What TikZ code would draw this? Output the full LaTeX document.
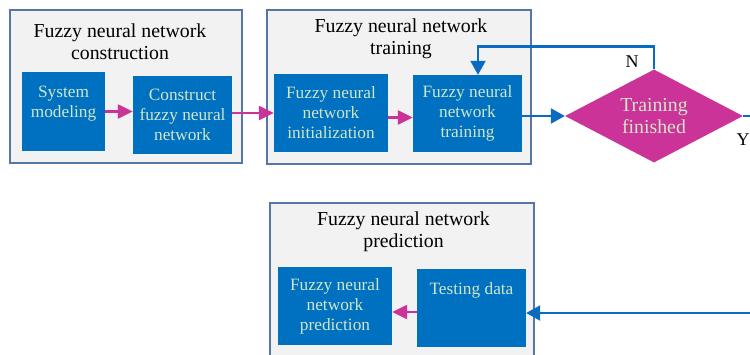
\documentclass[tikz,border=0pt]{standalone}
\usepackage{fontspec}
\setmainfont{Liberation Serif}
\usetikzlibrary{shapes.geometric,arrows.meta}
\definecolor{boxblue}{HTML}{0070C0}
\definecolor{boxtext}{HTML}{CFE7C6}
\definecolor{pinkarrow}{HTML}{CC3399}
\definecolor{groupedge}{HTML}{5676A8}
\definecolor{groupfill}{HTML}{F2F2F2}
\definecolor{flowblue}{HTML}{0A6CC0}

\begin{document}
\begin{tikzpicture}[x=1pt,y=-1pt,
  group/.style={draw=groupedge,fill=groupfill,line width=1.8pt,inner sep=0pt},
  stage/.style={fill=boxblue,text=boxtext,align=center,inner sep=0pt,
    font=\fontsize{17.3}{20}\selectfont},
  grouptitle/.style={align=center,inner sep=0pt,font=\fontsize{19.8}{22}\selectfont},
  pinkflow/.style={draw=pinkarrow,line width=2.4pt,-{Triangle[length=15pt,width=14pt]}},
  blueflow/.style={draw=flowblue,line width=2.4pt,-{Triangle[length=14pt,width=15pt]}},
  branch/.style={inner sep=0pt,font=\fontsize{18}{20}\selectfont}]

\useasboundingbox (0,0) rectangle (750,354);
\clip (0,0) rectangle (750,354);

% grey stage groups
\node[group,minimum width=232pt,minimum height=153pt] (g1) at (126,86.5) {};
\node[group,minimum width=264pt,minimum height=154pt] (g2) at (399,87) {};
\node[group,minimum width=264pt,minimum height=167pt] (g3) at (402,286.5) {};

\node[grouptitle] (t1) at (120,42) {Fuzzy neural network\\construction};
\node[grouptitle] (t2) at (401,39) {Fuzzy neural network\\training};
\node[grouptitle] (t3) at (403.5,232) {Fuzzy neural network\\prediction};

% process steps
\node[stage,minimum width=83pt,minimum height=79pt] (sys) at (63.5,111.5) {System\\modeling\\~};
\node[stage,minimum width=99pt,minimum height=78pt] (cons) at (182.5,115) {Construct\\fuzzy neural\\network};
\node[stage,minimum width=114pt,minimum height=78pt] (init) at (331,113) {Fuzzy neural\\network\\initialization};
\node[stage,minimum width=109pt,minimum height=77pt] (train) at (467.5,113.5) {Fuzzy neural\\network\\training};
\node[stage,minimum width=114pt,minimum height=78pt] (pred) at (335,306) {Fuzzy neural\\network\\prediction};
\node[stage,minimum width=109pt,minimum height=78pt] (test) at (471.5,308) {Testing data\\~\\~};

% decision
\node[diamond,fill=pinkarrow,text=boxtext,align=center,inner sep=0pt,aspect=1.9,
  minimum width=178pt,minimum height=93pt,font=\fontsize{19.8}{22}\selectfont]
  (dia) at (654,116) {Training\\finished};

\node[branch] (n) at (632,62) {N};
\node[branch] (y) at (743,140) {Y};

% connectors
\draw[pinkflow] (sys.east) -- (sys.east -| cons.west);
\draw[pinkflow] ([yshift=2pt]cons.east) -- ([yshift=2pt]cons.east -| init.west);
\draw[pinkflow] ([yshift=-4.5pt]init.east) -- ([yshift=-4.5pt]init.east -| train.west);
\draw[pinkflow] ([yshift=-4pt]test.west) -- ([yshift=-4pt]test.west -| pred.east);

\draw[blueflow] (train.east |- dia.west) -- (dia.west);
\draw[blueflow] (dia.north) -- ++(0,-23) -| ([xshift=10.5pt]train.north);
\draw[blueflow] (dia.east) -- ++(30,0) |- ([yshift=-5pt]test.east);
\end{tikzpicture}
\end{document}
